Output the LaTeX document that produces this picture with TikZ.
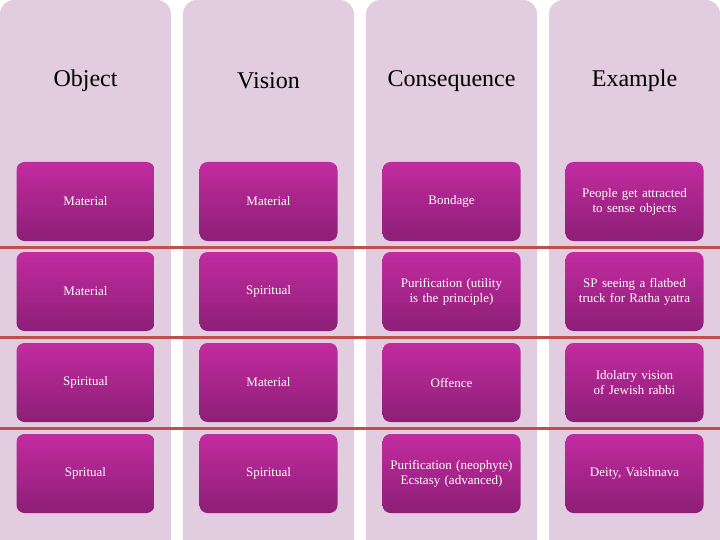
\documentclass[tikz,border=0pt]{standalone}
\usepackage{fontspec}
\setmainfont{Liberation Serif}
\definecolor{colbg}{HTML}{E2CCDF}
\definecolor{btop}{HTML}{C22BA0}
\definecolor{bbot}{HTML}{8C1F76}
\definecolor{rline}{HTML}{C0504D}
\begin{document}
\begin{tikzpicture}[x=1pt,y=-1pt,
  colbox/.style={fill=colbg,draw=none,rounded corners=14pt},
  cell/.style={rounded corners=8pt,top color=btop,bottom color=bbot,draw=none,minimum width=138pt,minimum height=79pt,text width=128pt,align=center,text=white,font=\fontsize{13}{15}\selectfont},
  head/.style={font=\fontsize{24}{28}\selectfont,text=black},
  sep/.style={draw=rline,line width=3pt}]
\useasboundingbox (0,0) rectangle (720,540);
\foreach \x in {0,183,366,549}{\fill[colbg,rounded corners=14pt] (\x,0) rectangle (\x+171,560);}
\node[head] (h1) at (85.5,81) {Object};
\node[head] (h2) at (268.5,81) {Vision};
\node[head] (h3) at (451.5,81) {Consequence};
\node[head] (h4) at (634.5,81) {Example};
\node[cell] (a1) at (85.5,201.5) {Material};
\node[cell] (b1) at (268.5,201.5) {Material};
\node[cell] (c1) at (451.5,201.5) {Bondage};
\node[cell] (d1) at (634.5,201.5) {People get attracted to sense objects};
\node[cell] (a2) at (85.5,291.5) {Material};
\node[cell] (b2) at (268.5,291.5) {Spiritual};
\node[cell] (c2) at (451.5,291.5) {Purification (utility is the principle)};
\node[cell] (d2) at (634.5,291.5) {SP seeing a flatbed truck for Ratha yatra};
\node[cell] (a3) at (85.5,382.5) {Spiritual};
\node[cell] (b3) at (268.5,382.5) {Material};
\node[cell] (c3) at (451.5,382.5) {Offence};
\node[cell] (d3) at (634.5,382.5) {Idolatry vision of Jewish rabbi};
\node[cell] (a4) at (85.5,473.5) {Spritual};
\node[cell] (b4) at (268.5,473.5) {Spiritual};
\node[cell] (c4) at (451.5,473.5) {Purification (neophyte) Ecstasy (advanced)};
\node[cell] (d4) at (634.5,473.5) {Deity, Vaishnava};
\coordinate (l1a) at (0,247); \coordinate (l1b) at (720,247);
\coordinate (l2a) at (0,337); \coordinate (l2b) at (720,337);
\coordinate (l3a) at (0,428); \coordinate (l3b) at (720,428);
\draw[sep] (l1a) -- (l1b);
\draw[sep] (l2a) -- (l2b);
\draw[sep] (l3a) -- (l3b);
\end{tikzpicture}
\end{document}
